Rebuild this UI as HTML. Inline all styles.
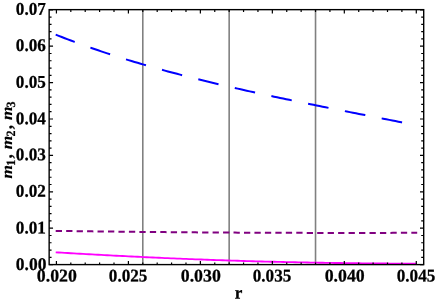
<!DOCTYPE html>
<html><head><meta charset="utf-8"><title>plot</title>
<style>
html,body{margin:0;padding:0;background:#fff;}
body{width:436px;height:302px;overflow:hidden;}
svg{display:block;}
text{font-family:"Liberation Serif",serif;font-weight:bold;fill:#000;text-rendering:geometricPrecision;stroke:#000;stroke-width:0.25px;}
</style></head><body>
<svg width="436" height="302" viewBox="0 0 436 302" style="will-change:transform">
<defs><filter id="g" x="-5%" y="-5%" width="110%" height="110%"><feOffset dx="0" dy="0"/></filter></defs>
<rect x="0" y="0" width="436" height="302" fill="#fff"/>

<line x1="142.79" y1="9.65" x2="142.79" y2="264.6" stroke="#808080" stroke-width="1.6"/>
<line x1="229.16" y1="9.65" x2="229.16" y2="264.6" stroke="#808080" stroke-width="1.6"/>
<line x1="315.53" y1="9.65" x2="315.53" y2="264.6" stroke="#808080" stroke-width="1.6"/>
<path d="M55.70,252.33 L58.73,252.51 L61.77,252.69 L64.80,252.87 L67.83,253.04 L70.86,253.22 L73.90,253.39 L76.93,253.57 L79.96,253.74 L82.99,253.91 L86.03,254.08 L89.06,254.25 L92.09,254.42 L95.13,254.59 L98.16,254.75 L101.19,254.92 L104.22,255.08 L107.26,255.24 L110.29,255.40 L113.32,255.56 L116.36,255.72 L119.39,255.88 L122.42,256.03 L125.45,256.19 L128.49,256.34 L131.52,256.49 L134.55,256.64 L137.58,256.79 L140.62,256.93 L143.65,257.08 L146.68,257.22 L149.72,257.36 L152.75,257.50 L155.78,257.64 L158.81,257.78 L161.85,257.92 L164.88,258.05 L167.91,258.18 L170.95,258.31 L173.98,258.44 L177.01,258.57 L180.04,258.70 L183.08,258.82 L186.11,258.94 L189.14,259.07 L192.17,259.19 L195.21,259.30 L198.24,259.42 L201.27,259.53 L204.31,259.65 L207.34,259.76 L210.37,259.87 L213.40,259.98 L216.44,260.08 L219.47,260.19 L222.50,260.29 L225.54,260.39 L228.57,260.49 L231.60,260.59 L234.63,260.68 L237.67,260.78 L240.70,260.87 L243.73,260.96 L246.76,261.05 L249.80,261.14 L252.83,261.23 L255.86,261.31 L258.90,261.39 L261.93,261.48 L264.96,261.55 L267.99,261.63 L271.03,261.71 L274.06,261.78 L277.09,261.86 L280.13,261.93 L283.16,262.00 L286.19,262.07 L289.22,262.13 L292.26,262.20 L295.29,262.26 L298.32,262.33 L301.35,262.39 L304.39,262.45 L307.42,262.50 L310.45,262.56 L313.49,262.61 L316.52,262.67 L319.55,262.72 L322.58,262.77 L325.62,262.82 L328.65,262.87 L331.68,262.91 L334.72,262.96 L337.75,263.00 L340.78,263.04 L343.81,263.09 L346.85,263.13 L349.88,263.16 L352.91,263.20 L355.94,263.24 L358.98,263.27 L362.01,263.31 L365.04,263.34 L368.08,263.37 L371.11,263.40 L374.14,263.43 L377.17,263.46 L380.21,263.49 L383.24,263.51 L386.27,263.54 L389.31,263.56 L392.34,263.58 L395.37,263.61 L398.40,263.63 L401.44,263.65 L404.47,263.67 L407.50,263.69 L410.53,263.71 L413.57,263.72 L416.60,263.74" fill="none" stroke="#ff00ff" stroke-width="1.85"/>
<path d="M55.70,230.89 L58.74,230.93 L61.78,230.97 L64.81,231.01 L67.85,231.05 L70.89,231.09 L73.93,231.13 L76.96,231.17 L80.00,231.21 L83.04,231.25 L86.08,231.29 L89.12,231.32 L92.15,231.36 L95.19,231.40 L98.23,231.43 L101.27,231.47 L104.31,231.51 L107.34,231.54 L110.38,231.57 L113.42,231.61 L116.46,231.64 L119.49,231.68 L122.53,231.71 L125.57,231.74 L128.61,231.77 L131.65,231.80 L134.68,231.84 L137.72,231.87 L140.76,231.90 L143.80,231.93 L146.83,231.96 L149.87,231.98 L152.91,232.01 L155.95,232.04 L158.99,232.07 L162.02,232.10 L165.06,232.12 L168.10,232.15 L171.14,232.17 L174.17,232.20 L177.21,232.22 L180.25,232.25 L183.29,232.27 L186.33,232.30 L189.36,232.32 L192.40,232.34 L195.44,232.36 L198.48,232.39 L201.52,232.41 L204.55,232.43 L207.59,232.45 L210.63,232.47 L213.67,232.49 L216.70,232.51 L219.74,232.53 L222.78,232.55 L225.82,232.56 L228.86,232.58 L231.89,232.60 L234.93,232.61 L237.97,232.63 L241.01,232.65 L244.04,232.66 L247.08,232.68 L250.12,232.69 L253.16,232.70 L256.20,232.72 L259.23,232.73 L262.27,232.74 L265.31,232.76 L268.35,232.77 L271.38,232.78 L274.42,232.79 L277.46,232.80 L280.50,232.81 L283.54,232.82 L286.57,232.83 L289.61,232.84 L292.65,232.85 L295.69,232.85 L298.73,232.86 L301.76,232.87 L304.80,232.87 L307.84,232.88 L310.88,232.89 L313.91,232.89 L316.95,232.90 L319.99,232.90 L323.03,232.90 L326.07,232.91 L329.10,232.91 L332.14,232.91 L335.18,232.91 L338.22,232.92 L341.25,232.92 L344.29,232.92 L347.33,232.92 L350.37,232.92 L353.41,232.92 L356.44,232.92 L359.48,232.91 L362.52,232.91 L365.56,232.91 L368.59,232.91 L371.63,232.90 L374.67,232.90 L377.71,232.90 L380.75,232.89 L383.78,232.89 L386.82,232.88 L389.86,232.88 L392.90,232.87 L395.94,232.86 L398.97,232.86 L402.01,232.85 L405.05,232.84 L408.09,232.83 L411.12,232.82 L414.16,232.81 L417.20,232.80" fill="none" stroke="#800080" stroke-width="2" stroke-dasharray="6.3 4.16"/>
<path d="M55.70,34.64 L58.73,35.85 L61.77,37.05 L64.80,38.23 L67.83,39.39 L70.86,40.55 L73.90,41.68 L76.93,42.81 L79.96,43.92 L82.99,45.02 L86.03,46.10 L89.06,47.18 L92.09,48.24 L95.13,49.29 L98.16,50.32 L101.19,51.35 L104.22,52.36 L107.26,53.37 L110.29,54.36 L113.32,55.34 L116.36,56.31 L119.39,57.27 L122.42,58.22 L125.45,59.16 L128.49,60.09 L131.52,61.02 L134.55,61.93 L137.58,62.83 L140.62,63.73 L143.65,64.61 L146.68,65.49 L149.72,66.36 L152.75,67.22 L155.78,68.08 L158.81,68.92 L161.85,69.76 L164.88,70.59 L167.91,71.41 L170.95,72.23 L173.98,73.04 L177.01,73.84 L180.04,74.63 L183.08,75.42 L186.11,76.21 L189.14,76.98 L192.17,77.75 L195.21,78.51 L198.24,79.27 L201.27,80.02 L204.31,80.77 L207.34,81.51 L210.37,82.25 L213.40,82.98 L216.44,83.70 L219.47,84.42 L222.50,85.14 L225.54,85.85 L228.57,86.56 L231.60,87.26 L234.63,87.95 L237.67,88.65 L240.70,89.33 L243.73,90.02 L246.76,90.70 L249.80,91.37 L252.83,92.05 L255.86,92.71 L258.90,93.38 L261.93,94.04 L264.96,94.70 L267.99,95.35 L271.03,96.01 L274.06,96.65 L277.09,97.30 L280.13,97.94 L283.16,98.58 L286.19,99.22 L289.22,99.85 L292.26,100.48 L295.29,101.11 L298.32,101.74 L301.35,102.36 L304.39,102.98 L307.42,103.60 L310.45,104.22 L313.49,104.84 L316.52,105.45 L319.55,106.06 L322.58,106.68 L325.62,107.28 L328.65,107.89 L331.68,108.50 L334.72,109.10 L337.75,109.71 L340.78,110.31 L343.81,110.91 L346.85,111.51 L349.88,112.11 L352.91,112.71 L355.94,113.31 L358.98,113.91 L362.01,114.50 L365.04,115.10 L368.08,115.70 L371.11,116.29 L374.14,116.89 L377.17,117.49 L380.21,118.08 L383.24,118.68 L386.27,119.28 L389.31,119.88 L392.34,120.47 L395.37,121.07 L398.40,121.67 L401.44,122.27 L404.47,122.88 L407.50,123.48 L410.53,124.08 L413.57,124.69 L416.60,125.30" fill="none" stroke="#0000ff" stroke-width="2" stroke-dasharray="20.8 16.7" stroke-dashoffset="0.45"/>
<path d="M56.42,264.6v-3.6 M56.42,9.65v3.85 M70.82,264.6v-2.15 M70.82,9.65v2.35 M85.21,264.6v-2.15 M85.21,9.65v2.35 M99.60,264.6v-2.15 M99.60,9.65v2.35 M114.00,264.6v-2.15 M114.00,9.65v2.35 M128.40,264.6v-3.6 M128.40,9.65v3.85 M142.79,264.6v-2.15 M142.79,9.65v2.35 M157.19,264.6v-2.15 M157.19,9.65v2.35 M171.58,264.6v-2.15 M171.58,9.65v2.35 M185.98,264.6v-2.15 M185.98,9.65v2.35 M200.37,264.6v-3.6 M200.37,9.65v3.85 M214.76,264.6v-2.15 M214.76,9.65v2.35 M229.16,264.6v-2.15 M229.16,9.65v2.35 M243.56,264.6v-2.15 M243.56,9.65v2.35 M257.95,264.6v-2.15 M257.95,9.65v2.35 M272.35,264.6v-3.6 M272.35,9.65v3.85 M286.74,264.6v-2.15 M286.74,9.65v2.35 M301.14,264.6v-2.15 M301.14,9.65v2.35 M315.53,264.6v-2.15 M315.53,9.65v2.35 M329.93,264.6v-2.15 M329.93,9.65v2.35 M344.32,264.6v-3.6 M344.32,9.65v3.85 M358.72,264.6v-2.15 M358.72,9.65v2.35 M373.11,264.6v-2.15 M373.11,9.65v2.35 M387.50,264.6v-2.15 M387.50,9.65v2.35 M401.90,264.6v-2.15 M401.90,9.65v2.35 M416.29,264.6v-3.6 M416.29,9.65v3.85 M49.15,264.60h3.9 M423.7,264.60h-3.7 M49.15,257.32h2.4 M423.7,257.32h-2.5 M49.15,250.04h2.4 M423.7,250.04h-2.5 M49.15,242.76h2.4 M423.7,242.76h-2.5 M49.15,235.48h2.4 M423.7,235.48h-2.5 M49.15,228.20h3.9 M423.7,228.20h-3.7 M49.15,220.92h2.4 M423.7,220.92h-2.5 M49.15,213.64h2.4 M423.7,213.64h-2.5 M49.15,206.36h2.4 M423.7,206.36h-2.5 M49.15,199.08h2.4 M423.7,199.08h-2.5 M49.15,191.80h3.9 M423.7,191.80h-3.7 M49.15,184.52h2.4 M423.7,184.52h-2.5 M49.15,177.24h2.4 M423.7,177.24h-2.5 M49.15,169.96h2.4 M423.7,169.96h-2.5 M49.15,162.68h2.4 M423.7,162.68h-2.5 M49.15,155.40h3.9 M423.7,155.40h-3.7 M49.15,148.12h2.4 M423.7,148.12h-2.5 M49.15,140.84h2.4 M423.7,140.84h-2.5 M49.15,133.56h2.4 M423.7,133.56h-2.5 M49.15,126.28h2.4 M423.7,126.28h-2.5 M49.15,119.00h3.9 M423.7,119.00h-3.7 M49.15,111.72h2.4 M423.7,111.72h-2.5 M49.15,104.44h2.4 M423.7,104.44h-2.5 M49.15,97.16h2.4 M423.7,97.16h-2.5 M49.15,89.88h2.4 M423.7,89.88h-2.5 M49.15,82.60h3.9 M423.7,82.60h-3.7 M49.15,75.32h2.4 M423.7,75.32h-2.5 M49.15,68.04h2.4 M423.7,68.04h-2.5 M49.15,60.76h2.4 M423.7,60.76h-2.5 M49.15,53.48h2.4 M423.7,53.48h-2.5 M49.15,46.20h3.9 M423.7,46.20h-3.7 M49.15,38.92h2.4 M423.7,38.92h-2.5 M49.15,31.64h2.4 M423.7,31.64h-2.5 M49.15,24.36h2.4 M423.7,24.36h-2.5 M49.15,17.08h2.4 M423.7,17.08h-2.5 M49.15,9.80h3.9 M423.7,9.80h-3.7" fill="none" stroke="#000" stroke-width="1.2"/>
<rect x="49.15" y="9.65" width="374.55" height="254.95" fill="none" stroke="#000" stroke-width="1.4"/>
<g filter="url(#g)">
<text transform="translate(15.85,270.04) rotate(0.03) scale(1.027,1.055)" font-size="17" text-anchor="start">0.00</text>
<text transform="translate(15.85,233.39) rotate(0.03) scale(1.01,1.055)" font-size="17" text-anchor="start">0.01</text>
<text transform="translate(15.85,196.66) rotate(0.03) scale(1.01,1.055)" font-size="17" text-anchor="start">0.02</text>
<text transform="translate(15.85,160.35) rotate(0.03) scale(1.01,1.055)" font-size="17" text-anchor="start">0.03</text>
<text transform="translate(15.85,124.27) rotate(0.03) scale(1.01,1.055)" font-size="17" text-anchor="start">0.04</text>
<text transform="translate(15.85,87.75) rotate(0.03) scale(1.01,1.055)" font-size="17" text-anchor="start">0.05</text>
<text transform="translate(15.85,51.07) rotate(0.03) scale(1.01,1.055)" font-size="17" text-anchor="start">0.06</text>
<text transform="translate(15.85,14.82) rotate(0.03) scale(1.01,1.055)" font-size="17" text-anchor="start">0.07</text>
<text transform="translate(36.82,281.4) rotate(0.03) scale(1.047,1.055)" font-size="17" text-anchor="start">0.020</text>
<text transform="translate(108.80,281.4) rotate(0.03) scale(1.009,1.055)" font-size="17" text-anchor="start">0.025</text>
<text transform="translate(180.77,281.4) rotate(0.03) scale(1.047,1.055)" font-size="17" text-anchor="start">0.030</text>
<text transform="translate(252.75,281.4) rotate(0.03) scale(1.009,1.055)" font-size="17" text-anchor="start">0.035</text>
<text transform="translate(324.72,281.4) rotate(0.03) scale(1.047,1.055)" font-size="17" text-anchor="start">0.040</text>
<text transform="translate(396.69,281.4) rotate(0.03) scale(1.009,1.055)" font-size="17" text-anchor="start">0.045</text>
<text transform="translate(238.6,298.5) rotate(0.03) scale(1.01,1.055)" font-size="17" text-anchor="middle">r</text>
<text transform="translate(12.00,178.50) rotate(-90) scale(1.02,0.91)" font-size="17" style="font-style:italic;stroke-width:0.15px">m</text>
<text transform="translate(14.90,165.80) rotate(-90) scale(1.0,1.05)" font-size="12">1</text>
<text transform="translate(12.00,158.50) rotate(-90) scale(1.0,1.05)" font-size="17">,</text>
<text transform="translate(12.00,149.30) rotate(-90) scale(1.02,0.91)" font-size="17" style="font-style:italic;stroke-width:0.15px">m</text>
<text transform="translate(14.90,136.60) rotate(-90) scale(1.0,1.05)" font-size="12">2</text>
<text transform="translate(12.00,129.30) rotate(-90) scale(1.0,1.05)" font-size="17">,</text>
<text transform="translate(12.00,120.10) rotate(-90) scale(1.02,0.91)" font-size="17" style="font-style:italic;stroke-width:0.15px">m</text>
<text transform="translate(14.90,107.40) rotate(-90) scale(1.0,1.05)" font-size="12">3</text>
</g>
</svg></body></html>
